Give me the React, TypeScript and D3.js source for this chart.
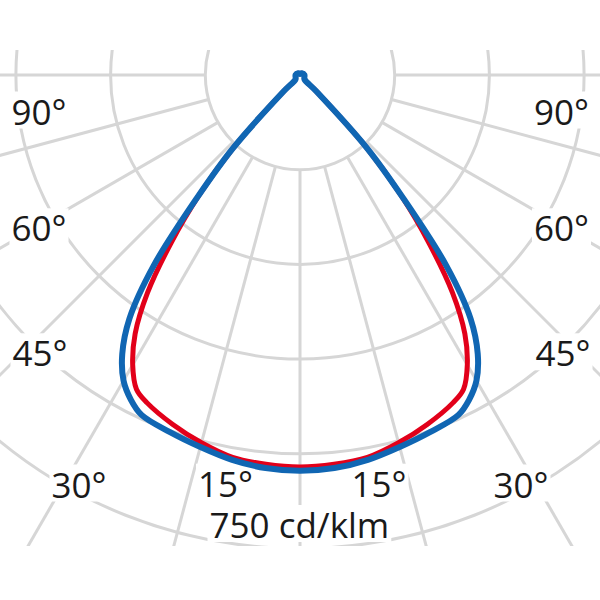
import React, { useEffect, useRef } from 'react';
import * as d3 from 'd3';

// Polar angles (degrees from nadir) used for both curves, one half (the curves are symmetric)
const halfAngles = [0, 5, 10, 15, 20, 25, 27.5, 30, 32.5, 35, 37.5, 40, 42.5, 45, 46, 60, 90, 135, 180];
// C90/C270 plane (blue), cd/klm
const blueValues = [627, 625, 619, 610, 602, 594, 580, 559, 524, 471, 381, 253, 157, 37, 10, 8, 7, 4, 2];
// C0/C180 plane (red), cd/klm
const redValues = [621, 619, 615, 603, 589, 573, 561, 530, 486, 421, 336, 250, 156, 37, 10, 8, 7, 4, 2];

// Grid
const ringValues = [150, 300, 450, 600, 750, 900];
const spokeAngles = [-90, -75, -60, -45, -30, -15, 0, 15, 30, 45, 60, 75, 90];
const scaleMax = 750;
const unitLabel = '750 cd/klm';

// Angle labels (text) and where they sit
const angleLabels = ['90°', '60°', '45°', '30°', '15°', '15°', '30°', '45°', '60°', '90°'];
const labelX = [11.5, 11.5, 12.5, 51.5, 198, 351.5, 493.5, 535.5, 534, 534];
const labelY = [124.5, 241.3, 366.3, 497.5, 496.7, 496.7, 497.5, 366.3, 241.3, 124.5];

const W = 600;
const H = 600;
const CX = 300;
const CY = 75;
const RMAX = 473.5;

export default function App() {
  const ref = useRef<SVGSVGElement | null>(null);

  useEffect(() => {
    const svg = d3.select(ref.current);
    svg.selectAll('*').remove();

    const r = d3.scaleLinear().domain([0, scaleMax]).range([0, RMAX]);
    const rad = (deg: number) => (deg * Math.PI) / 180;

    const defs = svg.append('defs');
    defs
      .append('clipPath')
      .attr('id', 'gridClip')
      .append('rect')
      .attr('x', 0)
      .attr('y', 50)
      .attr('width', W)
      .attr('height', 496);

    const grid = svg
      .append('g')
      .attr('clip-path', 'url(#gridClip)')
      .append('g')
      .attr('transform', `translate(${CX},${CY})`);

    const gridColor = '#d6d6d6';
    grid
      .selectAll('circle')
      .data(ringValues)
      .join('circle')
      .attr('r', (d) => r(d))
      .attr('fill', 'none')
      .attr('stroke', gridColor)
      .attr('stroke-width', 3);

    grid
      .selectAll('line')
      .data(spokeAngles)
      .join('line')
      .attr('x1', (a) => -Math.sin(rad(a)) * r(ringValues[0]))
      .attr('y1', (a) => Math.cos(rad(a)) * r(ringValues[0]))
      .attr('x2', (a) => -Math.sin(rad(a)) * 1200)
      .attr('y2', (a) => Math.cos(rad(a)) * 1200)
      .attr('stroke', gridColor)
      .attr('stroke-width', 3);

    // labels with white backgrounds
    const font = "'Open Sans', 'Noto Sans', sans-serif";
    const labelsG = svg.append('g');
    const addLabel = (text: string, x: number, y: number, anchor: string) => {
      const g = labelsG.append('g');
      const rect = g.append('rect').attr('fill', '#ffffff');
      const t = g
        .append('text')
        .attr('x', x)
        .attr('y', y)
        .attr('text-anchor', anchor)
        .attr('font-family', font)
        .attr('font-size', 35)
        .attr('fill', '#1a1a1a')
        .text(text);
      const node = t.node() as SVGTextElement;
      const bb = node.getBBox();
      const padX = 2;
      const padTop = -4;
      const padBottom = -6;
      rect
        .attr('x', bb.x - padX)
        .attr('y', bb.y - padTop)
        .attr('width', bb.width + 2 * padX)
        .attr('height', bb.height + padTop + padBottom);
    };
    angleLabels.forEach((txt, i) => addLabel(txt, labelX[i], labelY[i], 'start'));
    addLabel(unitLabel, 209.5, 538, 'start');

    // curves
    const buildPoints = (vals: number[]) => {
      const pts: [number, number][] = [];
      for (let i = halfAngles.length - 1; i >= 1; i--) {
        pts.push([rad(180 + halfAngles[i]), r(vals[i])]);
      }
      for (let i = 0; i < halfAngles.length; i++) {
        pts.push([rad(180 - halfAngles[i]), r(vals[i])]);
      }
      return pts;
    };

    const line = d3
      .lineRadial<[number, number]>()
      .angle((d) => d[0])
      .radius((d) => d[1])
      .curve(d3.curveCatmullRom.alpha(0.5));

    const curves = svg.append('g').attr('transform', `translate(${CX},${CY})`);
    curves
      .append('path')
      .attr('d', line(buildPoints(redValues)) as string)
      .attr('fill', 'none')
      .attr('stroke', '#e2001a')
      .attr('stroke-width', 5)
      .attr('stroke-linejoin', 'round')
      .attr('stroke-linecap', 'round');
    curves
      .append('path')
      .attr('d', line(buildPoints(blueValues)) as string)
      .attr('fill', 'none')
      .attr('stroke', '#1066b3')
      .attr('stroke-width', 6)
      .attr('stroke-linejoin', 'round')
      .attr('stroke-linecap', 'round');
  }, []);

  return (
    <svg
      ref={ref}
      width={W}
      height={H}
      viewBox={`0 0 ${W} ${H}`}
      style={{ position: 'absolute', left: 0, top: 0, background: '#ffffff', display: 'block' }}
    />
  );
}
